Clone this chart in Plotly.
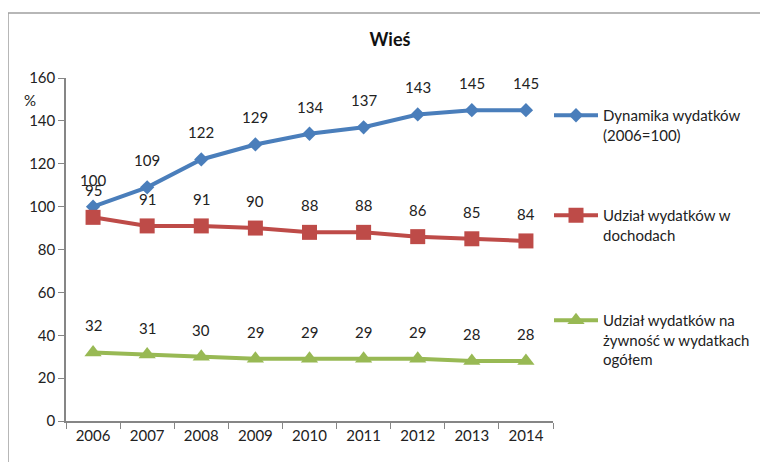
import plotly.graph_objects as go

years = ["2006", "2007", "2008", "2009", "2010", "2011", "2012", "2013", "2014"]
dynamika = [100, 109, 122, 129, 134, 137, 143, 145, 145]
udzial_dochody = [95, 91, 91, 90, 88, 88, 86, 85, 84]
udzial_zywnosc = [32, 31, 30, 29, 29, 29, 29, 28, 28]

names = ["Dynamika wydatków<br>(2006=100)",
         "Udział wydatków w<br>dochodach",
         "Udział wydatków na<br>żywność w wydatkach<br>ogółem"]
colors = ["#4a7ebb", "#be4b48", "#98b954"]
symbols = ["diamond", "square", "triangle-up"]
sizes = [11, 15, 15]
series = [dynamika, udzial_dochody, udzial_zywnosc]
legends = ["legend", "legend2", "legend3"]

FONT = "Lato, 'Open Sans', sans-serif"

# page offset of 8px (body margin) compensated in layout
L, T, PW, PH = 58, 70, 487, 343

fig = go.Figure()
for s, n, c, sym, sz, lg in zip(series, names, colors, symbols, sizes, legends):
    fig.add_trace(go.Scatter(
        x=years, y=s, name=n, mode="lines+markers",
        line=dict(color=c, width=4),
        marker=dict(symbol=sym, size=sz, color=c),
        legend=lg, cliponaxis=False,
    ))
    for i, yv in enumerate(s):
        fig.add_annotation(x=i, y=yv, xref="x", yref="y", text=str(yv), showarrow=False,
                           yshift=27, font=dict(size=15, color="#222222", family=FONT))

leg_common = dict(xanchor="left", yanchor="top", bgcolor="rgba(0,0,0,0)",
                  font=dict(size=15, color="#222222", family=FONT),
                  itemwidth=44, tracegroupgap=0, valign="top")
fig.update_layout(
    width=768, height=462,
    margin=dict(l=L, r=768 - L - PW, t=T, b=462 - T - PH),
    paper_bgcolor="white", plot_bgcolor="white",
    font=dict(family=FONT, size=15, color="#222222"),
    title=dict(text="<b>Wieś</b>", x=(390 - 8) / 768, xanchor="center", y=1 - 32 / 462, yanchor="middle",
               font=dict(size=18, color="#111111", family=FONT)),
    legend=dict(x=(541 - L) / PW, y=1 - (91 - T) / PH, **leg_common),
    legend2=dict(x=(541 - L) / PW, y=1 - (191 - T) / PH, **leg_common),
    legend3=dict(x=(541 - L) / PW, y=1 - (296 - T) / PH, **leg_common),
    xaxis=dict(type="category", showline=True, linecolor="#868686", linewidth=1.5,
               ticks="outside", ticklen=6, tickcolor="#868686", tickson="boundaries",
               showgrid=False, tickfont=dict(size=15, family=FONT, color="#222222"),
               range=[-0.5, 8.5]),
    yaxis=dict(range=[0, 160], dtick=20, showline=True, linecolor="#868686", linewidth=1.5,
               ticks="outside", ticklen=6, tickcolor="#868686", showgrid=False,
               zeroline=False, tickfont=dict(size=15, family=FONT, color="#222222")),
    showlegend=True,
)
fig.add_annotation(text="%", xref="paper", yref="paper", x=(22 - L) / PW, y=1 - (92 - T) / PH,
                   showarrow=False, font=dict(size=15, family=FONT, color="#222222"),
                   xanchor="center", yanchor="middle")
# outer frame
fig.add_shape(type="rect", xref="paper", yref="paper",
              x0=(0 - L) / PW, x1=(800 - L) / PW, y0=-1, y1=1 + (T - 5) / PH,
              line=dict(color="#a0a0a0", width=1.5), layer="below")
fig.write_html("out.html")
